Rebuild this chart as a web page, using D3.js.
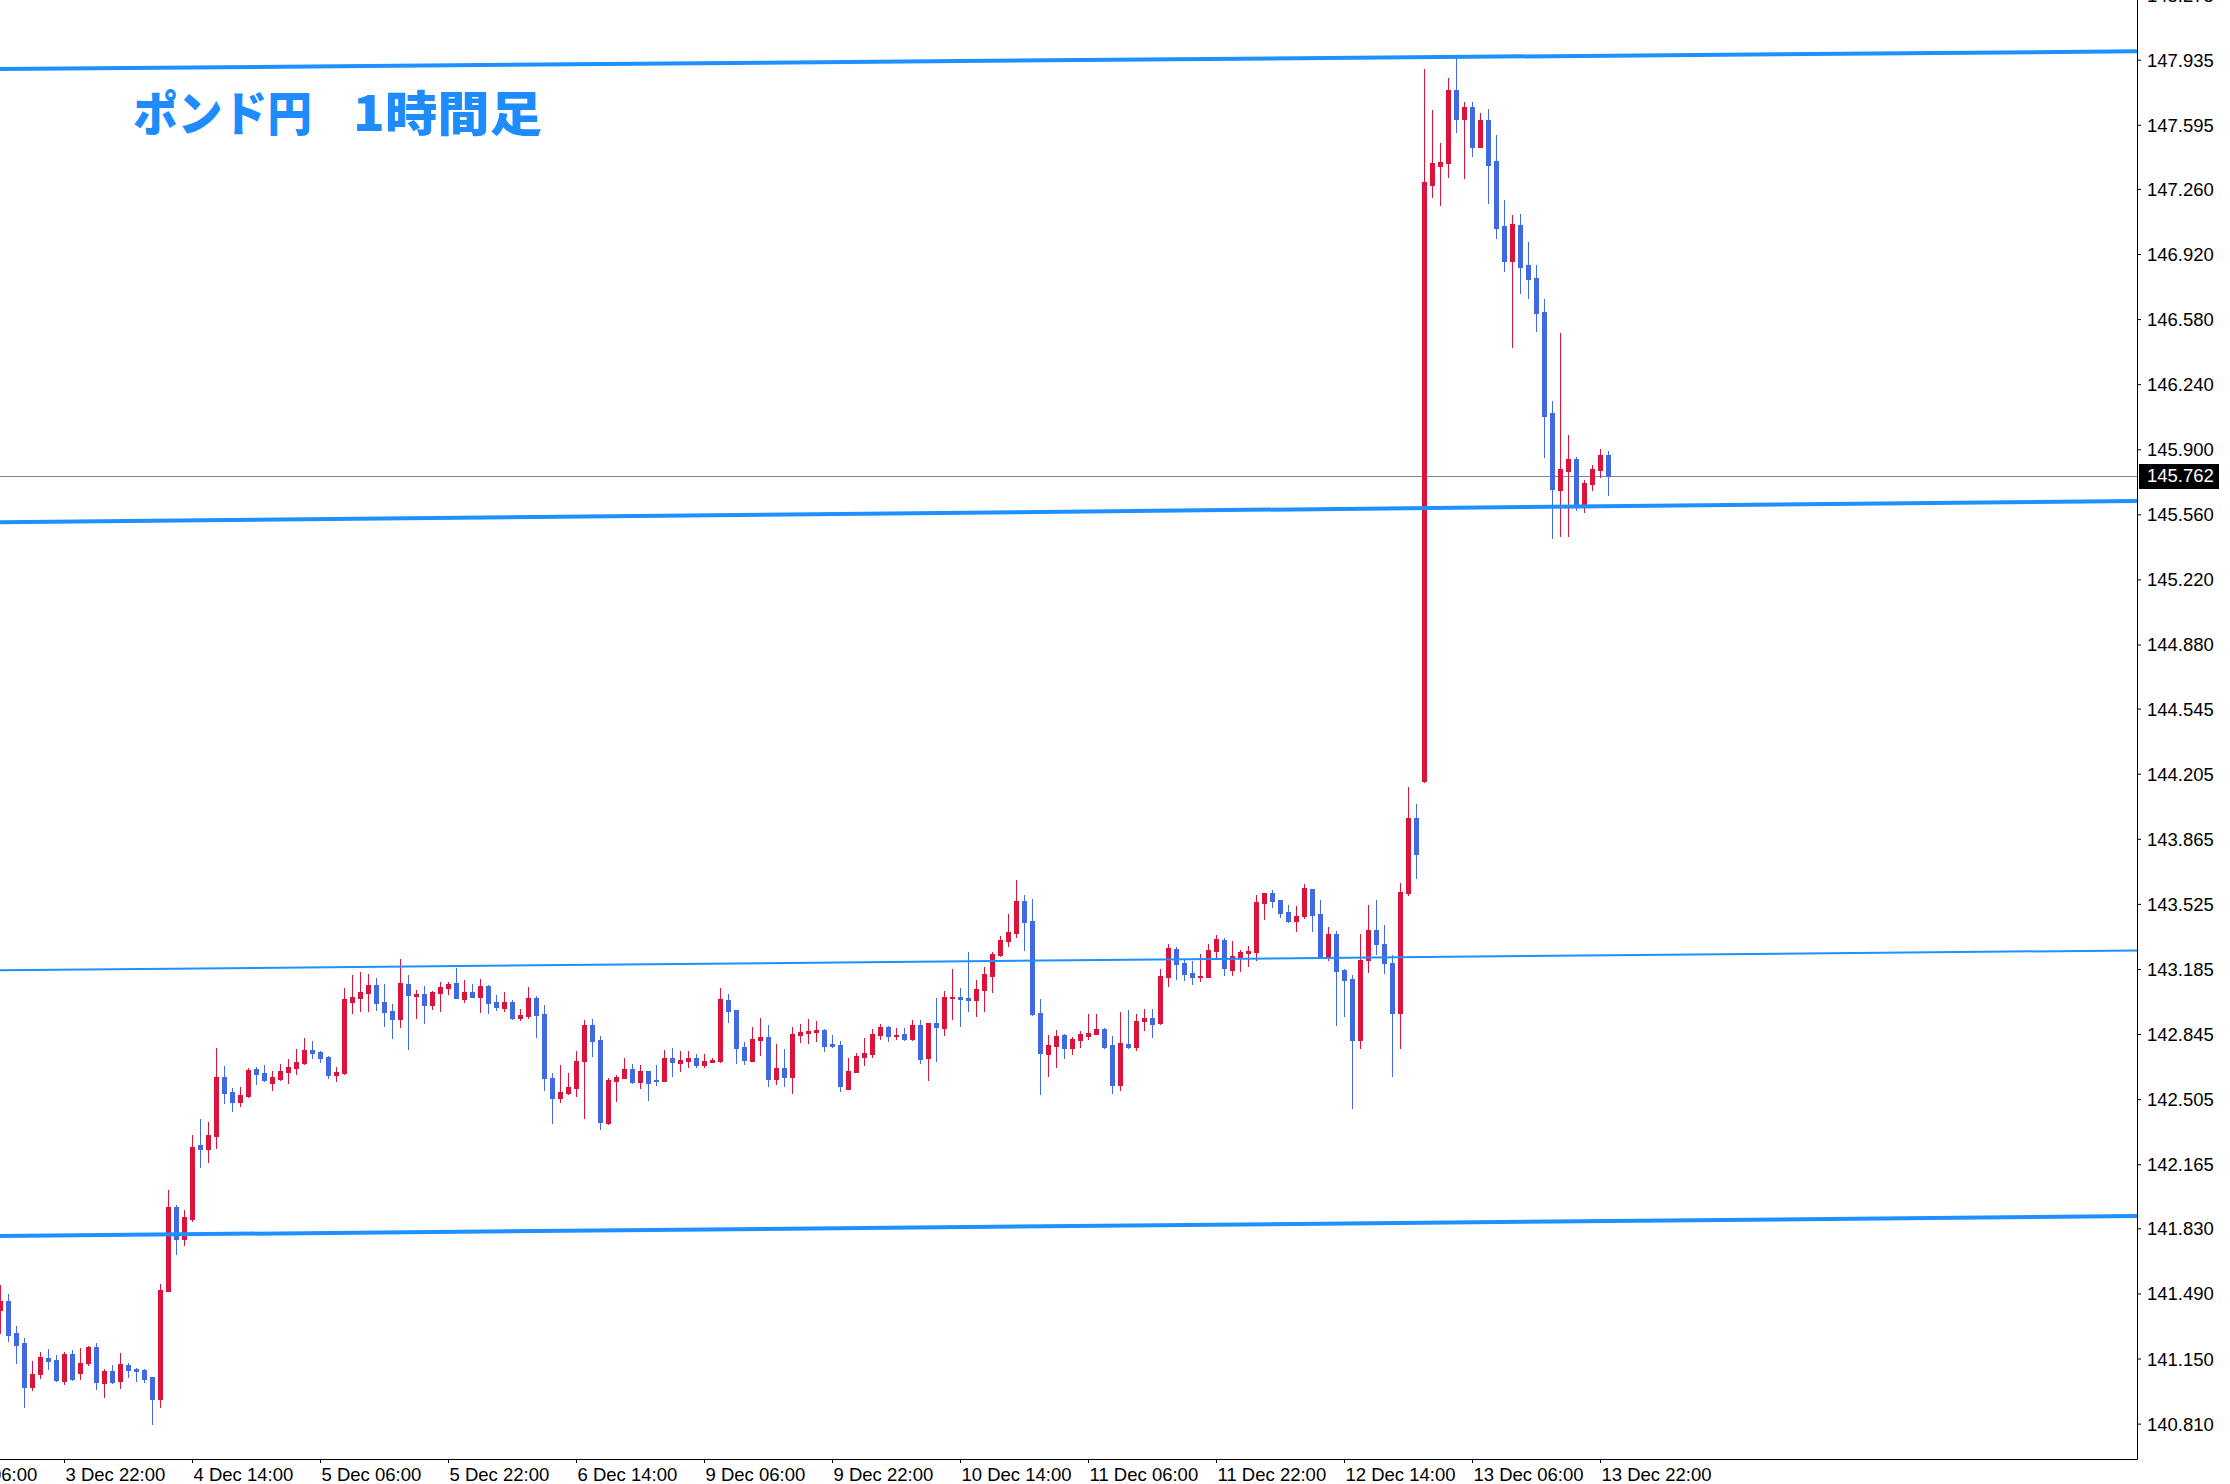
<!DOCTYPE html>
<html>
<head>
<meta charset="utf-8">
<script src="https://cdn.jsdelivr.net/npm/d3@7"></script>
<style>
  html, body { margin: 0; padding: 0; background: #fff; }
  svg { display: block; }
  .axis text { font-family: "Liberation Sans", Arial, sans-serif; font-size: 18.5px; fill: #000; }
</style>
</head>
<body>
<div id="chart"></div>
<script>
"use strict";

// GBPJPY H1, one value per bar (bar 0 = 3 Dec 14:00)
const opens = [
  141.403, 141.450, 141.283, 141.231, 141.001, 141.069, 141.153, 141.142, 141.032, 141.173,
  141.074, 141.126, 141.210, 141.022, 141.085, 141.032, 141.116, 141.095, 141.090, 141.053,
  140.938, 141.503, 141.941, 141.774, 141.879, 142.265, 142.244, 142.312, 142.621, 142.542,
  142.490, 142.521, 142.662, 142.641, 142.589, 142.610, 142.647, 142.668, 142.694, 142.762,
  142.751, 142.725, 142.631, 142.641, 143.012, 143.033, 143.059, 143.101, 143.012, 142.965,
  142.924, 143.106, 143.044, 143.054, 142.997, 143.059, 143.085, 143.112, 143.028, 143.065,
  143.038, 143.096, 143.012, 142.981, 143.012, 142.929, 142.939, 143.033, 142.950, 142.615,
  142.511, 142.537, 142.563, 142.704, 142.892, 142.814, 142.380, 142.600, 142.615, 142.662,
  142.594, 142.652, 142.605, 142.600, 142.720, 142.694, 142.704, 142.720, 142.683, 142.699,
  142.704, 143.023, 142.971, 142.777, 142.704, 142.814, 142.829, 142.610, 142.668, 142.621,
  142.840, 142.850, 142.856, 142.866, 142.793, 142.788, 142.558, 142.647, 142.725, 142.741,
  142.840, 142.882, 142.835, 142.845, 142.819, 142.892, 142.720, 142.903, 142.877, 143.033,
  143.038, 143.033, 143.023, 143.075, 143.148, 143.258, 143.331, 143.373, 143.540, 143.435,
  142.955, 142.741, 142.782, 142.840, 142.772, 142.814, 142.835, 142.845, 142.871, 142.788,
  142.579, 142.793, 142.777, 142.913, 142.929, 142.903, 143.143, 143.289, 143.216, 143.164,
  143.143, 143.143, 143.279, 143.336, 143.179, 143.247, 143.268, 143.274, 143.530, 143.582,
  143.545, 143.482, 143.435, 143.462, 143.603, 143.472, 143.253, 143.368, 143.179, 143.132,
  142.814, 143.232, 143.388, 143.315, 143.216, 142.955, 143.582, 143.974, 144.167, 147.280,
  147.380, 147.395, 147.777, 147.625, 147.688, 147.479, 147.620, 147.406, 147.066, 146.883,
  147.071, 146.862, 146.795, 146.617, 146.089, 145.687, 145.786, 145.849, 145.614, 145.718,
  145.791, 145.870
];
const highs = [
  141.534, 141.487, 141.320, 141.257, 141.137, 141.184, 141.200, 141.168, 141.184, 141.194,
  141.205, 141.215, 141.231, 141.095, 141.116, 141.179, 141.126, 141.100, 141.095, 141.053,
  141.539, 142.030, 141.952, 141.926, 142.318, 142.401, 142.385, 142.772, 142.678, 142.563,
  142.568, 142.668, 142.673, 142.683, 142.652, 142.688, 142.715, 142.767, 142.824, 142.809,
  142.756, 142.730, 142.673, 143.085, 143.153, 143.169, 143.159, 143.138, 143.106, 143.002,
  143.237, 143.153, 143.075, 143.096, 143.070, 143.117, 143.117, 143.190, 143.127, 143.106,
  143.132, 143.101, 143.049, 143.065, 143.023, 142.976, 143.091, 143.044, 142.997, 142.641,
  142.683, 142.641, 142.756, 142.918, 142.924, 142.835, 142.615, 142.631, 142.720, 142.688,
  142.683, 142.652, 142.683, 142.762, 142.772, 142.756, 142.756, 142.741, 142.741, 142.720,
  143.085, 143.054, 142.971, 142.803, 142.882, 142.929, 142.892, 142.793, 142.767, 142.882,
  142.897, 142.924, 142.913, 142.871, 142.840, 142.809, 142.720, 142.746, 142.824, 142.871,
  142.897, 142.887, 142.876, 142.876, 142.918, 142.918, 142.903, 143.033, 143.070, 143.185,
  143.085, 143.274, 143.127, 143.195, 143.274, 143.357, 143.472, 143.650, 143.571, 143.550,
  143.028, 142.840, 142.866, 142.845, 142.829, 142.861, 142.950, 142.950, 142.876, 142.835,
  142.960, 142.970, 142.950, 142.976, 142.976, 143.185, 143.315, 143.300, 143.232, 143.227,
  143.263, 143.315, 143.362, 143.347, 143.331, 143.284, 143.305, 143.571, 143.582, 143.597,
  143.545, 143.519, 143.514, 143.629, 143.603, 143.545, 143.404, 143.383, 143.185, 143.153,
  143.368, 143.519, 143.545, 143.414, 143.258, 143.634, 144.136, 144.047, 147.886, 147.672,
  147.500, 147.839, 147.951, 147.714, 147.714, 147.657, 147.677, 147.542, 147.202, 147.124,
  147.129, 146.983, 146.862, 146.685, 146.152, 146.507, 145.974, 145.859, 145.739, 145.818,
  145.901, 145.891
];
const lows = [
  141.281, 141.243, 141.126, 140.897, 140.985, 141.048, 141.095, 141.032, 141.017, 141.038,
  141.043, 141.116, 140.991, 140.949, 141.022, 140.996, 141.053, 141.032, 141.027, 140.808,
  140.897, 141.503, 141.696, 141.743, 141.868, 142.150, 142.176, 142.250, 142.485, 142.443,
  142.469, 142.516, 142.584, 142.600, 142.553, 142.605, 142.589, 142.636, 142.688, 142.720,
  142.699, 142.615, 142.600, 142.636, 142.955, 142.965, 142.965, 142.971, 142.887, 142.824,
  142.882, 142.767, 142.929, 142.903, 142.976, 142.965, 143.054, 143.033, 143.012, 143.038,
  142.960, 142.955, 142.971, 142.965, 142.924, 142.918, 142.929, 142.829, 142.553, 142.380,
  142.490, 142.532, 142.521, 142.406, 142.730, 142.349, 142.375, 142.495, 142.615, 142.589,
  142.563, 142.500, 142.579, 142.600, 142.626, 142.652, 142.673, 142.673, 142.673, 142.699,
  142.699, 142.908, 142.694, 142.688, 142.704, 142.735, 142.574, 142.584, 142.574, 142.537,
  142.803, 142.798, 142.809, 142.756, 142.777, 142.547, 142.558, 142.647, 142.683, 142.725,
  142.819, 142.809, 142.819, 142.814, 142.814, 142.694, 142.605, 142.704, 142.840, 142.924,
  142.887, 142.965, 142.939, 142.965, 143.065, 143.253, 143.305, 143.352, 143.284, 142.944,
  142.532, 142.626, 142.673, 142.720, 142.741, 142.777, 142.819, 142.845, 142.772, 142.537,
  142.553, 142.772, 142.762, 142.866, 142.829, 142.897, 143.096, 143.132, 143.127, 143.106,
  143.122, 143.143, 143.242, 143.153, 143.153, 143.174, 143.200, 143.232, 143.446, 143.509,
  143.456, 143.430, 143.383, 143.451, 143.383, 143.253, 143.232, 142.892, 142.939, 142.459,
  142.772, 143.169, 143.263, 143.164, 142.626, 142.772, 143.571, 143.660, 144.162, 147.218,
  147.176, 147.322, 147.557, 147.317, 147.432, 147.479, 147.186, 147.004, 146.831, 146.434,
  146.716, 146.690, 146.518, 145.859, 145.436, 145.447, 145.447, 145.582, 145.572, 145.687,
  145.755, 145.661
];
const closes = [
  141.450, 141.273, 141.220, 141.001, 141.069, 141.158, 141.137, 141.038, 141.173, 141.043,
  141.126, 141.210, 141.027, 141.085, 141.027, 141.121, 141.090, 141.085, 141.043, 140.938,
  141.508, 141.941, 141.774, 141.889, 142.255, 142.244, 142.318, 142.621, 142.537, 142.490,
  142.526, 142.657, 142.636, 142.605, 142.621, 142.652, 142.673, 142.699, 142.762, 142.746,
  142.720, 142.631, 142.647, 143.028, 143.038, 143.065, 143.101, 143.007, 142.960, 142.924,
  143.112, 143.049, 143.054, 142.997, 143.065, 143.091, 143.106, 143.033, 143.065, 143.038,
  143.096, 143.007, 142.986, 143.012, 142.929, 142.944, 143.033, 142.944, 142.615, 142.511,
  142.542, 142.568, 142.704, 142.892, 142.809, 142.385, 142.605, 142.621, 142.662, 142.594,
  142.652, 142.589, 142.600, 142.720, 142.699, 142.709, 142.720, 142.683, 142.704, 142.709,
  143.028, 142.965, 142.772, 142.709, 142.819, 142.829, 142.610, 142.668, 142.621, 142.845,
  142.856, 142.861, 142.866, 142.782, 142.782, 142.574, 142.652, 142.730, 142.746, 142.845,
  142.882, 142.835, 142.840, 142.819, 142.892, 142.715, 142.903, 142.882, 143.038, 143.038,
  143.028, 143.023, 143.080, 143.159, 143.263, 143.336, 143.378, 143.540, 143.430, 142.950,
  142.746, 142.788, 142.835, 142.772, 142.819, 142.845, 142.850, 142.871, 142.777, 142.579,
  142.798, 142.777, 142.913, 142.929, 142.897, 143.148, 143.294, 143.211, 143.159, 143.143,
  143.148, 143.284, 143.341, 143.190, 143.253, 143.274, 143.279, 143.535, 143.582, 143.540,
  143.477, 143.435, 143.462, 143.608, 143.467, 143.253, 143.368, 143.174, 143.127, 142.814,
  143.232, 143.388, 143.315, 143.216, 142.955, 143.587, 143.974, 143.785, 147.296, 147.395,
  147.401, 147.777, 147.625, 147.688, 147.479, 147.620, 147.385, 147.056, 146.883, 147.077,
  146.852, 146.789, 146.612, 146.074, 145.692, 145.797, 145.849, 145.614, 145.724, 145.797,
  145.870, 145.762
];

const priceTicks = [
  "148.275", "147.935", "147.595", "147.260", "146.920", "146.580", "146.240", "145.900",
  "145.560", "145.220", "144.880", "144.545", "144.205", "143.865", "143.525", "143.185",
  "142.845", "142.505", "142.165", "141.830", "141.490", "141.150", "140.810"
];
const timeTickBars = [-8, 8, 24, 40, 56, 72, 88, 104, 120, 136, 152, 168, 184, 200];
const timeTickLabels = [
  "3 Dec 06:00", "3 Dec 22:00", "4 Dec 14:00", "5 Dec 06:00", "5 Dec 22:00", "6 Dec 14:00",
  "9 Dec 06:00", "9 Dec 22:00", "10 Dec 14:00", "11 Dec 06:00", "11 Dec 22:00",
  "12 Dec 14:00", "13 Dec 06:00", "13 Dec 22:00"
];

// hand drawn support / resistance lines: price at left edge, price at right edge
const levelLeft = [147.886, 145.518, 143.178, 141.790];
const levelRight = [147.979, 145.630, 143.282, 141.894];

const lastPrice = 145.762;
const titleParts = ["ポンド円", "1時間足"];

const width = 2230;
const height = 1484;
const plotRight = 2137;
const plotBottom = 1459;
const barStep = 8;
const bullColor = "#DC143C";
const bearColor = "#4169E1";
const levelColor = "#1E90FF";
const levelWidth = [4, 4, 2, 4];

const x = d3.scaleLinear()
  .domain([0, plotRight / barStep])
  .range([0, plotRight]);

const y = d3.scaleLinear()
  .domain([140.810, 147.935])
  .range([1423.6, 59.7]);

const bars = opens.map((o, i) => ({ i, o, h: highs[i], l: lows[i], c: closes[i] }));

const svg = d3.select("#chart")
  .append("svg")
  .attr("width", width)
  .attr("height", height);

svg.append("rect")
  .attr("width", width)
  .attr("height", height)
  .attr("fill", "#fff");

svg.append("defs").append("clipPath")
  .attr("id", "plot_clip")
  .append("rect")
  .attr("x", 0)
  .attr("y", 0)
  .attr("width", plotRight)
  .attr("height", plotBottom);

const plot = svg.append("g").attr("clip-path", "url(#plot_clip)");

// last price line (behind the bars)
plot.append("line")
  .attr("x1", 0)
  .attr("x2", plotRight)
  .attr("y1", Math.round(y(lastPrice)) + 0.5)
  .attr("y2", Math.round(y(lastPrice)) + 0.5)
  .attr("stroke", "#778899")
  .attr("stroke-width", 1);

const candle = plot.append("g")
  .attr("shape-rendering", "crispEdges")
  .selectAll("g")
  .data(bars)
  .enter().append("g")
    .attr("fill", (d) => d.c >= d.o ? bullColor : bearColor);

candle.append("rect")
  .attr("x", (d) => Math.round(x(d.i)))
  .attr("width", 1)
  .attr("y", (d) => Math.round(y(d.h)))
  .attr("height", (d) => Math.max(1, Math.round(y(d.l)) - Math.round(y(d.h)) + 1));

candle.append("rect")
  .attr("x", (d) => Math.round(x(d.i)) - 2)
  .attr("width", 5)
  .attr("y", (d) => Math.round(y(Math.max(d.o, d.c))))
  .attr("height", (d) => Math.max(2, Math.round(y(Math.min(d.o, d.c))) - Math.round(y(Math.max(d.o, d.c))) + 1));

// support / resistance lines, drawn over the bars
plot.append("g")
  .selectAll("line")
  .data(levelLeft)
  .enter().append("line")
    .attr("x1", x(x.domain()[0]))
    .attr("x2", x(x.domain()[1]))
    .attr("y1", (d) => y(d))
    .attr("y2", (d, i) => y(levelRight[i]))
    .attr("stroke", levelColor)
    .attr("stroke-width", (d, i) => levelWidth[i]);

// title
const titleText = svg.append("text")
  .attr("y", 131)
  .attr("fill", "#1E8CFF")
  .attr("font-family", "'Noto Sans CJK JP', sans-serif")
  .attr("font-weight", 900)
  .attr("font-size", 48);

titleText.append("tspan")
  .attr("x", 133)
  .attr("textLength", 179)
  .attr("lengthAdjust", "spacingAndGlyphs")
  .text(titleParts[0]);

titleText.append("tspan")
  .attr("x", 353)
  .attr("textLength", 189)
  .attr("lengthAdjust", "spacingAndGlyphs")
  .text(titleParts[1]);

// price axis
const yAxis = d3.axisRight(y)
  .tickValues(priceTicks.map(Number))
  .tickFormat((d, i) => priceTicks[i])
  .tickSize(4)
  .tickSizeOuter(0)
  .tickPadding(6);

const gy = svg.append("g")
  .attr("class", "axis")
  .attr("transform", `translate(${plotRight},0)`)
  .call(yAxis);
gy.select(".domain").remove();
gy.selectAll("text").attr("dy", "0.35em");

// time axis
const xAxis = d3.axisBottom(x)
  .tickValues(timeTickBars)
  .tickFormat((d, i) => timeTickLabels[i])
  .tickSize(4)
  .tickSizeOuter(0)
  .tickPadding(5);

const gx = svg.append("g")
  .attr("class", "axis")
  .attr("transform", `translate(0,${plotBottom})`)
  .call(xAxis);
gx.select(".domain").remove();
gx.selectAll("text")
  .attr("text-anchor", "start")
  .attr("x", 1);

// frame: bottom and right edges of the chart window
svg.append("path")
  .attr("d", `M0,${plotBottom + 0.5}H${plotRight + 0.5}V0`)
  .attr("fill", "none")
  .attr("stroke", "#000")
  .attr("stroke-width", 1);

// last price tag
const tagY = Math.round(y(lastPrice));
svg.append("rect")
  .attr("x", plotRight + 2)
  .attr("y", tagY - 12)
  .attr("width", 80)
  .attr("height", 25)
  .attr("fill", "#000");

svg.append("text")
  .attr("x", plotRight + 10)
  .attr("y", tagY)
  .attr("dy", "0.35em")
  .style("fill", "#fff")
  .style("font-family", "'Liberation Sans', Arial, sans-serif")
  .style("font-size", "18.5px")
  .text(lastPrice.toFixed(3));
</script>
</body>
</html>
